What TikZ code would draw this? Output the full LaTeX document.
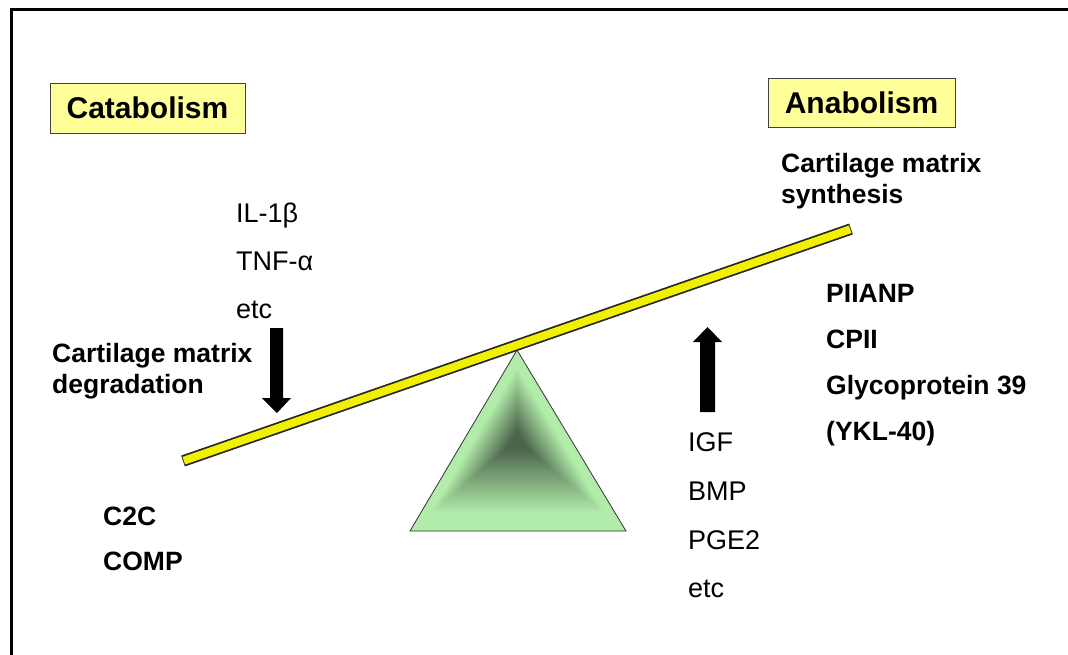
\documentclass[tikz,border=0pt]{standalone}
\usepackage{fontspec}
\setmainfont{Liberation Sans}
\usetikzlibrary{calc}
\definecolor{boxyellow}{RGB}{255,255,153}
\definecolor{baryellow}{RGB}{240,240,0}
\definecolor{trilight}{RGB}{178,236,170}
\definecolor{tridark}{RGB}{76,100,76}
\begin{document}
\begin{tikzpicture}[x=1pt,y=-1pt,
  lbl/.style={anchor=base west, inner sep=0pt, font=\fontsize{27}{31}\selectfont},
  blbl/.style={anchor=base west, inner sep=0pt, font=\fontsize{26.5}{31}\selectfont\bfseries},
  titlebox/.style={draw=black!75, fill=boxyellow, line width=1pt, inner sep=0pt, font=\fontsize{30}{34}\selectfont\bfseries},
  fatarrow/.style={fill=black}]
\useasboundingbox (0,0) rectangle (1068,654);
\draw[line width=3pt] (11,9) rectangle (1090,690);
% title boxes
\node[titlebox, minimum width=195pt, minimum height=50pt] (cat) at (147.5,108) {Catabolism};
\node[titlebox, minimum width=187pt, minimum height=49pt] (ana) at (861.5,102.5) {Anabolism};
% fulcrum triangle with shape gradient
\coordinate (tA) at (517,350);
\coordinate (tB) at (410,531);
\coordinate (tC) at (626,531);
\coordinate (tM) at (517,440);
\foreach \i in {0,...,70} {
  \pgfmathsetmacro\s{1-\i/70}
  \pgfmathtruncatemacro\p{max(0,min(100,((0.82-\s)/0.72)*100))}
  \fill[tridark!\p!trilight] ($(tM)!\s!(tA)$) -- ($(tM)!\s!(tB)$) -- ($(tM)!\s!(tC)$) -- cycle;
}
\draw[black!80, line width=0.8pt] (tA) -- (tB) -- (tC) -- cycle;
% beam
\coordinate (barL) at (183,461);
\coordinate (barR) at (851,229);
\draw[line width=11.5pt, black!85] (barL) -- (barR);
\draw[line width=8pt, baryellow] ($(barL)!0.9pt!(barR)$) -- ($(barR)!0.9pt!(barL)$);
% arrows
\fill[fatarrow] (270,328) -- (283,328) -- (283,398) -- (291,398) -- (277,413) -- (262,398) -- (270,398) -- cycle;
\fill[fatarrow] (700,412) -- (715,412) -- (715,342) -- (722,342) -- (707.5,327) -- (693,342) -- (700,342) -- cycle;
% texts
\node[lbl] (il1) at (236,222) {IL-1β};
\node[lbl] (tnf) at (236,270) {TNF-α};
\node[lbl] (etc1) at (236,318) {etc};
\node[blbl] (deg1) at (52,362) {Cartilage matrix};
\node[blbl] (deg2) at (52,393) {degradation};
\node[blbl] (syn1) at (781,172) {Cartilage matrix};
\node[blbl] (syn2) at (781,203) {synthesis};
\node[blbl] (piianp) at (826,302) {PIIANP};
\node[blbl] (cpii) at (826,348) {CPII};
\node[blbl] (glyc) at (826,394) {Glycoprotein 39};
\node[blbl] (ykl) at (826,440) {(YKL-40)};
\node[blbl] (c2c) at (103,525) {C2C};
\node[blbl] (comp) at (103,570) {COMP};
\node[lbl] (igf) at (688,451) {IGF};
\node[lbl] (bmp) at (688,500) {BMP};
\node[lbl] (pge) at (688,549) {PGE2};
\node[lbl] (etc2) at (688,597) {etc};
\end{tikzpicture}
\end{document}
